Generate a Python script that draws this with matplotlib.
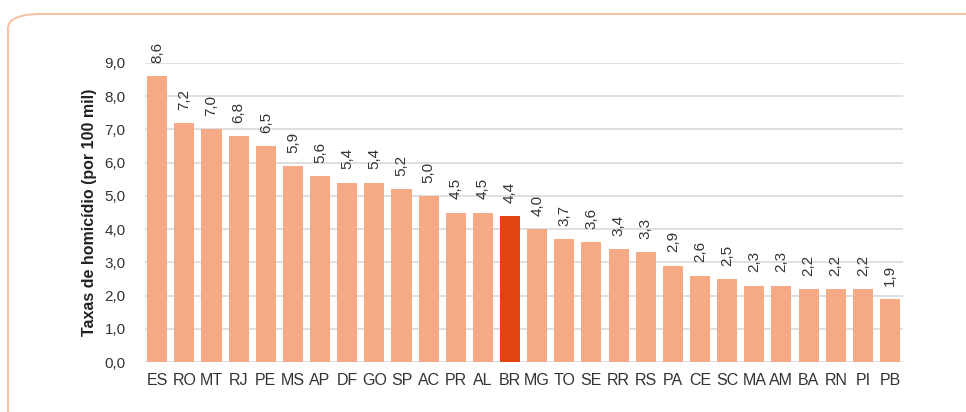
import matplotlib
matplotlib.use("Agg")
import matplotlib.pyplot as plt
from matplotlib.patches import FancyBboxPatch

states = ["ES", "RO", "MT", "RJ", "PE", "MS", "AP", "DF", "GO", "SP", "AC", "PR", "AL", "BR",
          "MG", "TO", "SE", "RR", "RS", "PA", "CE", "SC", "MA", "AM", "BA", "RN", "PI", "PB"]
values = [8.6, 7.2, 7.0, 6.8, 6.5, 5.9, 5.6, 5.4, 5.4, 5.2, 5.0, 4.5, 4.5, 4.4,
          4.0, 3.7, 3.6, 3.4, 3.3, 2.9, 2.6, 2.5, 2.3, 2.3, 2.2, 2.2, 2.2, 1.9]
highlight = "BR"
yticks = [0, 1, 2, 3, 4, 5, 6, 7, 8, 9]

plt.rcParams['font.family'] = ['Liberation Sans', 'DejaVu Sans']

fig = plt.figure(figsize=(9.66, 4.12), dpi=100)
fig.patch.set_facecolor("white")

box = FancyBboxPatch((8 / 966, -0.1), 1.2, (412 - 14) / 412 + 0.1,
                     boxstyle="round,pad=0,rounding_size=0.035",
                     transform=fig.transFigure, facecolor="white",
                     edgecolor="#F5C2A6", linewidth=1.5, zorder=-10)
fig.patches.append(box)

ax = fig.add_axes([145 / 966, (412 - 362) / 412, (903 - 145) / 966, (362 - 63) / 412])
ax.set_facecolor("none")

colors = ["#E2450F" if s == highlight else "#F5AA85" for s in states]
x = list(range(len(states)))
ax.bar(x, values, width=0.74, color=colors, zorder=3)

for xi, v in zip(x, values):
    ax.text(xi, v + 0.4, f"{v:.1f}".replace(".", ","), rotation=90,
            ha="center", va="bottom", fontsize=11, color="#333333")

ax.set_xlim(-0.45, len(states) - 0.52)
ax.set_ylim(0, 9)
ax.set_yticks(yticks)
ax.set_yticklabels([f"{t:.1f}".replace(".", ",") for t in yticks], fontsize=11, color="#333333")
ax.set_xticks(x)
ax.set_xticklabels(states, fontsize=11.5, color="#333333")
ax.tick_params(axis="both", length=0)
ax.tick_params(axis="y", pad=14)
ax.tick_params(axis="x", pad=8)
ax.yaxis.grid(True, color="#D9D9D9", linewidth=1.2, zorder=0)
ax.set_axisbelow(True)
for sp in ax.spines.values():
    sp.set_visible(False)

ax.set_ylabel("Taxas de homicídio (por 100 mil)", fontsize=11.5, fontweight="bold",
              color="#222222", labelpad=5)

fig.savefig("out.png", dpi=100)
